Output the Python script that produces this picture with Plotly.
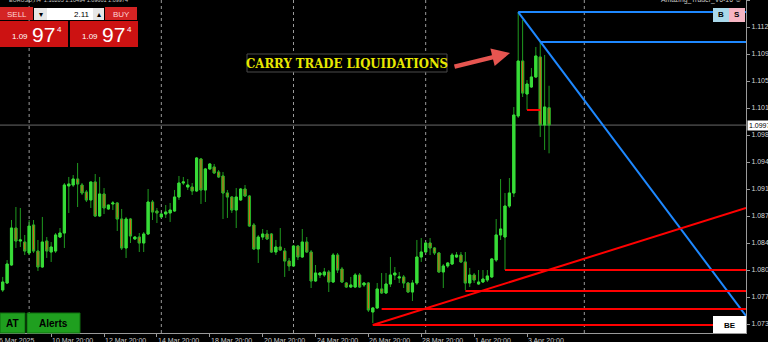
import plotly.graph_objects as go

# ---------------- data (EURUSD H4) ----------------
open_ = [1.07794, 1.07886, 1.08124, 1.08613, 1.08441, 1.08428, 1.08283, 1.08653, 1.08309, 1.08098,
         1.08441, 1.08296, 1.08309, 1.08494, 1.08547, 1.09169, 1.09182, 1.09261, 1.09182, 1.09089,
         1.08984, 1.09222, 1.08772, 1.09063, 1.08865, 1.08931, 1.08944, 1.08732, 1.08349, 1.08732,
         1.08468, 1.08494, 1.08415, 1.08534, 1.08957, 1.08838, 1.08759, 1.08798, 1.08812, 1.08838,
         1.09023, 1.09208, 1.09155, 1.09155, 1.09103, 1.09526, 1.09116, 1.09394, 1.09420, 1.09354,
         1.09301, 1.09076, 1.09023, 1.08851, 1.08984, 1.09129, 1.09036, 1.08653, 1.08336, 1.08494,
         1.08534, 1.08534, 1.08296, 1.08362, 1.08309, 1.08177, 1.08111, 1.08375, 1.08230, 1.08428,
         1.08296, 1.07913, 1.07992, 1.07992, 1.08032, 1.07899, 1.08256, 1.08071, 1.07886, 1.07833,
         1.07833, 1.07992, 1.07860, 1.07886, 1.07503, 1.07556, 1.07807, 1.07754, 1.07873, 1.07992,
         1.07952, 1.07966, 1.07886, 1.07767, 1.07886, 1.08230, 1.08296, 1.08415, 1.08349, 1.08283,
         1.08032, 1.08111, 1.08137, 1.08230, 1.08256, 1.08164, 1.07886, 1.07992, 1.07873, 1.07899,
         1.07926, 1.07966, 1.08190, 1.08521, 1.08494, 1.08904, 1.09076, 1.10094, 1.10821, 1.10385,
         1.10478, 1.10610, 1.10874, 1.09975, 1.10203]
high = [1.07966, 1.08190, 1.08719, 1.08891, 1.08878, 1.08521, 1.08719, 1.08719, 1.08455, 1.08759,
        1.08494, 1.08428, 1.08547, 1.08613, 1.09208, 1.09288, 1.09314, 1.09473, 1.09208, 1.09116,
        1.09222, 1.09327, 1.09288, 1.09142, 1.08917, 1.08970, 1.08957, 1.08865, 1.08759, 1.08746,
        1.08508, 1.08547, 1.08560, 1.09129, 1.08984, 1.08878, 1.08812, 1.08917, 1.08944, 1.09116,
        1.09301, 1.09288, 1.09261, 1.09208, 1.09552, 1.09539, 1.09407, 1.09473, 1.09460, 1.09380,
        1.09354, 1.09116, 1.09036, 1.09142, 1.09142, 1.09182, 1.09050, 1.08679, 1.08521, 1.08600,
        1.08587, 1.08547, 1.08455, 1.08613, 1.08349, 1.08217, 1.08389, 1.08389, 1.08600, 1.08494,
        1.08322, 1.08124, 1.08032, 1.08085, 1.08058, 1.08283, 1.08283, 1.08098, 1.07899, 1.07966,
        1.08018, 1.08018, 1.07899, 1.07899, 1.07569, 1.07886, 1.08018, 1.08018, 1.08230, 1.08098,
        1.08032, 1.07992, 1.07899, 1.07926, 1.08455, 1.08481, 1.08428, 1.08481, 1.08362, 1.08296,
        1.08137, 1.08164, 1.08283, 1.08296, 1.08296, 1.08296, 1.08085, 1.08018, 1.08058, 1.08058,
        1.08058, 1.08217, 1.08732, 1.09261, 1.09076, 1.09274, 1.10213, 1.11469, 1.11364, 1.10570,
        1.10729, 1.11007, 1.11073, 1.10901, 1.10494]
low = [1.07767, 1.07873, 1.08111, 1.08349, 1.08362, 1.08256, 1.08256, 1.08283, 1.08045, 1.08085,
       1.08217, 1.08164, 1.08283, 1.08481, 1.08349, 1.08812, 1.09155, 1.08891, 1.09050, 1.08957,
       1.08878, 1.08759, 1.08759, 1.08798, 1.08851, 1.08851, 1.08574, 1.08322, 1.08217, 1.08415,
       1.08455, 1.08296, 1.08296, 1.08521, 1.08719, 1.08679, 1.08746, 1.08746, 1.08693, 1.08825,
       1.08984, 1.09182, 1.09116, 1.09050, 1.09089, 1.08931, 1.08957, 1.09380, 1.09327, 1.09274,
       1.08732, 1.08746, 1.08812, 1.08613, 1.08970, 1.09023, 1.08627, 1.08322, 1.08151, 1.08455,
       1.08455, 1.08283, 1.08256, 1.08309, 1.07966, 1.08045, 1.08098, 1.08190, 1.08217, 1.08283,
       1.07820, 1.07899, 1.07952, 1.07966, 1.07767, 1.07886, 1.08018, 1.07886, 1.07820, 1.07820,
       1.07820, 1.07820, 1.07833, 1.07503, 1.07357, 1.07542, 1.07741, 1.07741, 1.07833, 1.07926,
       1.07886, 1.07820, 1.07754, 1.07648, 1.07860, 1.08164, 1.08283, 1.08256, 1.08256, 1.08018,
       1.07820, 1.08085, 1.08124, 1.08217, 1.08151, 1.07794, 1.07833, 1.07886, 1.07860, 1.07886,
       1.07899, 1.07952, 1.08164, 1.08455, 1.08058, 1.08878, 1.09023, 1.10068, 1.10345, 1.10174,
       1.10464, 1.10597, 1.09817, 1.09645, 1.09601]
close = [1.07899, 1.08137, 1.08613, 1.08441, 1.08455, 1.08309, 1.08640, 1.08309, 1.08098, 1.08428,
         1.08309, 1.08362, 1.08521, 1.08547, 1.09182, 1.09195, 1.09261, 1.09195, 1.09076, 1.08984,
         1.09222, 1.08772, 1.09063, 1.08878, 1.08917, 1.08944, 1.08732, 1.08349, 1.08732, 1.08508,
         1.08494, 1.08415, 1.08534, 1.08957, 1.08825, 1.08812, 1.08798, 1.08825, 1.08851, 1.09023,
         1.09208, 1.09222, 1.09182, 1.09103, 1.09539, 1.09116, 1.09394, 1.09460, 1.09341, 1.09288,
         1.09076, 1.09023, 1.08851, 1.09023, 1.09129, 1.09036, 1.08640, 1.08336, 1.08494, 1.08534,
         1.08468, 1.08296, 1.08362, 1.08322, 1.08177, 1.08111, 1.08375, 1.08230, 1.08428, 1.08296,
         1.07913, 1.08018, 1.08018, 1.08032, 1.07899, 1.08256, 1.08058, 1.07899, 1.07833, 1.07860,
         1.07992, 1.07833, 1.07886, 1.07529, 1.07556, 1.07807, 1.07754, 1.07873, 1.07992, 1.08018,
         1.07966, 1.07886, 1.07767, 1.07886, 1.08230, 1.08296, 1.08415, 1.08349, 1.08283, 1.08032,
         1.08111, 1.08151, 1.08256, 1.08256, 1.08164, 1.07886, 1.07992, 1.07926, 1.07899, 1.07939,
         1.07979, 1.08204, 1.08521, 1.08600, 1.08904, 1.09076, 1.10107, 1.10821, 1.10398, 1.10517,
         1.10610, 1.10888, 1.09975, 1.10213, 1.09974]

tick_bars = [-1, 11, 23, 35, 47, 59, 71, 83, 95, 107, 119]
tick_labels = ["6 Mar 2025", "10 Mar 20:00", "12 Mar 20:00", "14 Mar 20:00", "18 Mar 20:00",
               "20 Mar 20:00", "24 Mar 20:00", "26 Mar 20:00", "28 Mar 20:00", "1 Apr 20:00",
               "3 Apr 20:00"]
grid_bars = [6, 36, 66, 96, 132]
price_ticks = [1.07344, 1.07701, 1.08058, 1.08415, 1.08772, 1.09129, 1.09486, 1.09843,
               1.10200, 1.10557, 1.10914, 1.11271, 1.11628]
price_labels = ["1.073", "1.077", "1.080", "1.084", "1.087", "1.091", "1.094", "1.098",
                "1.101", "1.105", "1.109", "1.112", "1.116"]
last_price = 1.09974
header_text = "EURUSD,H4  1.10203 1.10494 1.09601 1.09974"
indicator_text = "Amazing_Trader_V6-16 \u263a"
note_text = "CARRY TRADE LIQUIDATIONS"

X_MIN, X_MAX = -0.613, 168.7
Y_MIN, Y_MAX = 1.07225, 1.11628

# trend lines (bar0, price0, bar1, price1)
blue_lines = [(117, 1.11469, X_MAX, 1.11469),
              (122, 1.11073, X_MAX, 1.11073),
              (117, 1.11469, X_MAX, 1.07450)]
red_lines = [(84, 1.07331, X_MAX, 1.07331),
             (86, 1.07542, X_MAX, 1.07542),
             (105, 1.07780, X_MAX, 1.07780),
             (114, 1.08058, X_MAX, 1.08058),
             (84, 1.07331, X_MAX, 1.08878),
             (119, 1.10174, 122, 1.10174)]

# ---------------- figure ----------------
W, H = 768, 342
PW, PH = 746, 333
SANS = "Liberation Sans, Arial, sans-serif"

def fx(p):
    return p / PW

def fy(p):
    return 1 - p / PH

def bar_to_paper(b):
    return (b - X_MIN) / (X_MAX - X_MIN)

shapes = []
annotations = []

def rect(x0, y0, x1, y1, fill, line=None, lw=0):
    shapes.append(dict(type="rect", xref="paper", yref="paper",
                       x0=fx(x0), x1=fx(x1), y0=fy(y1), y1=fy(y0),
                       fillcolor=fill, line=dict(color=line or fill, width=lw), layer="above"))

def text(x, y, s, size, color, xanchor="center", yanchor="middle", family=SANS):
    annotations.append(dict(xref="paper", yref="paper", x=fx(x), y=fy(y), text=s,
                            showarrow=False, xanchor=xanchor, yanchor=yanchor,
                            font=dict(size=size, color=color, family=family), borderpad=0))

bars = list(range(len(open_)))
body_top = [max(o, c) for o, c in zip(open_, close)]
body_bot = [min(o, c) for o, c in zip(open_, close)]

fig = go.Figure()
# wicks (full candles, darker green)
fig.add_trace(go.Candlestick(
    x=bars, open=open_, high=high, low=low, close=close,
    increasing=dict(line=dict(color="#1f9a1f", width=1), fillcolor="#3ade3a"),
    decreasing=dict(line=dict(color="#1f9a1f", width=1), fillcolor="#d06818"),
    whiskerwidth=0, hoverinfo="skip", showlegend=False))
# bodies on top (bright lime / orange with green edge)
fig.add_trace(go.Candlestick(
    x=bars, open=open_, high=body_top, low=body_bot, close=close,
    increasing=dict(line=dict(color="#38dc38", width=1), fillcolor="#38dc38"),
    decreasing=dict(line=dict(color="#26b026", width=1), fillcolor="#d06818"),
    whiskerwidth=0, hoverinfo="skip", showlegend=False))

# grid and price line
for gb in grid_bars:
    shapes.append(dict(type="line", xref="x", yref="paper", x0=gb, x1=gb, y0=0, y1=1,
                       line=dict(color="#9a9a9a", width=1, dash="dot"), layer="below"))
shapes.append(dict(type="line", xref="paper", yref="y", x0=0, x1=1, y0=last_price, y1=last_price,
                   line=dict(color="#6a6a6a", width=1), layer="below"))

for (b0, p0, b1, p1) in blue_lines:
    shapes.append(dict(type="line", xref="x", yref="y", x0=b0, y0=p0, x1=b1, y1=p1,
                       line=dict(color="#1e88ff", width=2), layer="above"))
for (b0, p0, b1, p1) in red_lines:
    shapes.append(dict(type="line", xref="x", yref="y", x0=b0, y0=p0, x1=b1, y1=p1,
                       line=dict(color="#ff0000", width=2), layer="above"))

# header texts (clipped at top, like the screenshot)
text(8, 0, header_text, 5.5, "#c8c8c8", xanchor="left")
text(743, 0, indicator_text, 6.8, "#c8c8c8", xanchor="right")

# trade panel
rect(0, 7, 33, 20, "#d42424")
text(16.5, 14, "SELL", 8, "#ffd6d6")
rect(34, 8, 47, 20, "#e6e6e6")
text(40.5, 14, "\u25be", 8, "#000000")
rect(47, 8, 93, 20, "#ffffff")
text(91, 14, "2.11", 8, "#000000", xanchor="right")
rect(93, 8, 104, 20, "#e6e6e6")
text(98.5, 14, "\u25b4", 8, "#000000")
rect(105, 7, 137, 20, "#d42424")
text(121, 14, "BUY", 8, "#ffd6d6")
for ox in (0, 70):
    rect(ox, 21, ox + 68, 47, "#cc1212")
    text(ox + 20, 36, "1.09", 8, "#ffffff")
    text(ox + 43.5, 34.5, "97", 21, "#ffffff")
    text(ox + 59.5, 29, "4", 8, "#ffffff")

# B / S buttons
rect(713, 8, 729, 22, "#a9d8ea")
text(721, 15, "<b>B</b>", 8, "#000000")
rect(729, 8, 745, 22, "#f6b5c3")
text(737, 15, "<b>S</b>", 8, "#000000")

# BE box
rect(713, 316, 746, 333, "#ffffff")
text(729.5, 325, "<b>BE</b>", 8, "#000000")

# AT / Alerts
rect(0, 313, 25, 333, "#1f9f1f", "#0f700f", 1)
text(12.5, 323, "<b>AT</b>", 10, "#000000")
rect(27, 313, 80, 333, "#1f9f1f", "#0f700f", 1)
text(53.5, 323, "<b>Alerts</b>", 10, "#000000")

# note box
rect(247, 54, 447, 72, "#000000", "#4a4a4a", 1)
text(347, 63, "<b>" + note_text + "</b>", 13, "#e8e800",
     family="DejaVu Serif Condensed, DejaVu Serif, serif")

# arrow
annotations.append(dict(xref="paper", yref="paper", x=fx(510), y=fy(53), ax=-57, ay=14,
                        showarrow=True, arrowhead=2, arrowsize=0.8, arrowwidth=4.5,
                        arrowcolor="#e65550", text="", standoff=0))

# x tick labels (left-aligned at tick, like MT4)
for b, lab in zip(tick_bars, tick_labels):
    annotations.append(dict(xref="paper", yref="paper", x=bar_to_paper(b), y=0, yshift=-3,
                            text=lab, showarrow=False, xanchor="left", yanchor="top",
                            font=dict(size=7, color="#c8c8c8", family=SANS), borderpad=0))

# last price tag
annotations.append(dict(xref="paper", yref="y", x=1, y=last_price, xshift=1, text="1.09974",
                        showarrow=False, xanchor="left", yanchor="middle", bgcolor="#ffffff",
                        font=dict(size=7, color="#000000", family=SANS), borderpad=1))

fig.update_layout(
    width=W, height=H, autosize=False,
    margin=dict(l=0, r=W - PW, t=0, b=H - PH, pad=0),
    paper_bgcolor="#000000", plot_bgcolor="#000000",
    font=dict(family=SANS, color="#c8c8c8"),
    showlegend=False, shapes=shapes, annotations=annotations, boxmode="overlay",
    xaxis=dict(range=[X_MIN, X_MAX], showgrid=False, zeroline=False, showline=True,
               linecolor="#9a9a9a", linewidth=1, ticks="outside", ticklen=3,
               tickcolor="#9a9a9a", tickvals=tick_bars[1:], showticklabels=False,
               rangeslider=dict(visible=False), fixedrange=True),
    yaxis=dict(range=[Y_MIN, Y_MAX], side="right", showgrid=False, zeroline=False,
               showline=True, linecolor="#9a9a9a", linewidth=1, ticks="outside", ticklen=3,
               tickcolor="#9a9a9a", tickvals=price_ticks, ticktext=price_labels,
               tickfont=dict(size=7, color="#d8d8d8", family=SANS), fixedrange=True),
)

fig.write_html("out.html")
